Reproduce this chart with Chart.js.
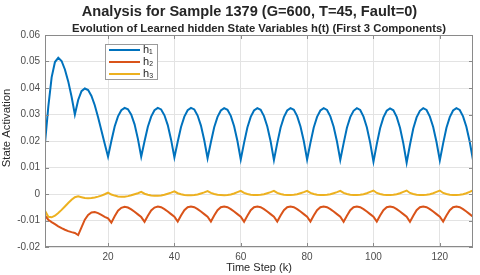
<!DOCTYPE html>
<html>
<head>
<meta charset="utf-8">
<script src="https://cdn.jsdelivr.net/npm/chart.js@4"></script>
<style>
  html, body { margin: 0; padding: 0; background: #fff; }
  #wrap { width: 480px; height: 275px; }
</style>
</head>
<body>
<div id="wrap"><canvas id="stateChart" width="480" height="275"></canvas></div>
<script>
// values, one per time step k = 1..130
const h1 = [
  0.0192, 0.0330, 0.0440, 0.0498, 0.0514, 0.0502, 0.0470, 0.0425, 0.0368, 0.0300,
  0.0355, 0.0388, 0.0398, 0.0392, 0.0370, 0.0335, 0.0290, 0.0240, 0.0190, 0.0141,
  0.0200, 0.0255, 0.0293, 0.0316, 0.0325, 0.0320, 0.0299, 0.0263, 0.0208, 0.0141,
  0.0199, 0.0254, 0.0292, 0.0316, 0.0325, 0.0319, 0.0297, 0.0260, 0.0205, 0.0138,
  0.0197, 0.0253, 0.0292, 0.0316, 0.0325, 0.0319, 0.0296, 0.0258, 0.0203, 0.0135,
  0.0195, 0.0252, 0.0291, 0.0315, 0.0324, 0.0318, 0.0295, 0.0256, 0.0200, 0.0130,
  0.0193, 0.0251, 0.0291, 0.0315, 0.0324, 0.0318, 0.0294, 0.0255, 0.0199, 0.0128,
  0.0192, 0.0250, 0.0290, 0.0315, 0.0324, 0.0318, 0.0294, 0.0255, 0.0200, 0.0130,
  0.0193, 0.0251, 0.0291, 0.0315, 0.0324, 0.0317, 0.0293, 0.0254, 0.0198, 0.0129,
  0.0191, 0.0250, 0.0290, 0.0314, 0.0324, 0.0317, 0.0292, 0.0252, 0.0194, 0.0122,
  0.0188, 0.0248, 0.0289, 0.0314, 0.0323, 0.0316, 0.0291, 0.0250, 0.0191, 0.0118,
  0.0186, 0.0247, 0.0289, 0.0314, 0.0324, 0.0317, 0.0292, 0.0253, 0.0196, 0.0127,
  0.0191, 0.0250, 0.0290, 0.0315, 0.0324, 0.0317, 0.0293, 0.0254, 0.0198, 0.0128
];
const h2 = [
  -0.0082, -0.0097, -0.0106, -0.0114, -0.0122, -0.0129, -0.0135, -0.0140, -0.0144, -0.0147,
  -0.0155, -0.0126, -0.0097, -0.0079, -0.0070, -0.0068, -0.0072, -0.0079, -0.0086, -0.0092,
  -0.0108, -0.0084, -0.0063, -0.0052, -0.0048, -0.0051, -0.0058, -0.0067, -0.0077, -0.0087,
  -0.0105, -0.0082, -0.0062, -0.0051, -0.0047, -0.0050, -0.0057, -0.0066, -0.0076, -0.0086,
  -0.0104, -0.0081, -0.0061, -0.0050, -0.0047, -0.0050, -0.0057, -0.0066, -0.0076, -0.0086,
  -0.0104, -0.0081, -0.0061, -0.0050, -0.0047, -0.0050, -0.0057, -0.0066, -0.0076, -0.0086,
  -0.0105, -0.0082, -0.0061, -0.0050, -0.0047, -0.0050, -0.0057, -0.0066, -0.0076, -0.0086,
  -0.0104, -0.0081, -0.0061, -0.0050, -0.0047, -0.0050, -0.0057, -0.0066, -0.0076, -0.0086,
  -0.0104, -0.0081, -0.0061, -0.0050, -0.0047, -0.0050, -0.0057, -0.0066, -0.0076, -0.0086,
  -0.0105, -0.0082, -0.0061, -0.0050, -0.0047, -0.0050, -0.0057, -0.0066, -0.0076, -0.0086,
  -0.0104, -0.0081, -0.0061, -0.0050, -0.0047, -0.0050, -0.0057, -0.0066, -0.0076, -0.0086,
  -0.0105, -0.0082, -0.0061, -0.0050, -0.0047, -0.0050, -0.0057, -0.0066, -0.0076, -0.0086,
  -0.0104, -0.0081, -0.0061, -0.0050, -0.0047, -0.0050, -0.0057, -0.0066, -0.0076, -0.0086
];
const h3 = [
  -0.0063, -0.0086, -0.0088, -0.0082, -0.0072, -0.0060, -0.0047, -0.0034, -0.0022, -0.0012,
  -0.0009, -0.0012, -0.0015, -0.0016, -0.0015, -0.0013, -0.0010, -0.0006, -0.0001, 0.0005,
  -0.0002, -0.0006, -0.0009, -0.0010, -0.0010, -0.0008, -0.0005, -0.0001, 0.0003, 0.0008,
  0.0001, -0.0003, -0.0006, -0.0007, -0.0007, -0.0006, -0.0003, 0.0001, 0.0005, 0.0010,
  0.0003, -0.0001, -0.0004, -0.0005, -0.0005, -0.0004, -0.0002, 0.0002, 0.0006, 0.0011,
  0.0004, 0.0000, -0.0003, -0.0004, -0.0005, -0.0004, -0.0002, 0.0002, 0.0007, 0.0012,
  0.0004, 0.0000, -0.0003, -0.0004, -0.0004, -0.0003, -0.0001, 0.0003, 0.0007, 0.0012,
  0.0004, 0.0000, -0.0003, -0.0004, -0.0004, -0.0003, -0.0001, 0.0003, 0.0007, 0.0012,
  0.0004, 0.0000, -0.0003, -0.0004, -0.0004, -0.0003, -0.0001, 0.0003, 0.0007, 0.0012,
  0.0004, 0.0000, -0.0003, -0.0004, -0.0004, -0.0003, -0.0001, 0.0003, 0.0008, 0.0013,
  0.0004, 0.0000, -0.0003, -0.0004, -0.0004, -0.0003, -0.0001, 0.0003, 0.0008, 0.0013,
  0.0004, 0.0000, -0.0003, -0.0004, -0.0004, -0.0003, -0.0001, 0.0003, 0.0008, 0.0013,
  0.0004, 0.0000, -0.0003, -0.0004, -0.0004, -0.0003, -0.0001, 0.0003, 0.0008, 0.0014
];
const seriesNames = ['h\u2081', 'h\u2082', 'h\u2083'];
const xTicks = [20, 40, 60, 80, 100, 120];
const yTicks = [-0.02, -0.01, 0, 0.01, 0.02, 0.03, 0.04, 0.05, 0.06];
const yTickLabels = ['-0.02', '-0.01', '0', '0.01', '0.02', '0.03', '0.04', '0.05', '0.06'];

const FONT = "'Liberation Sans', Arial, sans-serif";
const colors = ['#0072BD', '#D95319', '#EDB120'];

const toPoints = arr => arr.map((v, i) => ({ x: i + 1, y: v }));

// titles, frame and the in-plot legend (MATLAB look)
const decor = {
  id: 'decor',
  afterDraw(chart) {
    const c = chart.ctx;
    const a = chart.chartArea;
    c.save();
    c.fillStyle = '#262626';
    c.textAlign = 'center';
    c.textBaseline = 'middle';
    c.font = 'bold 14.6px ' + FONT;
    c.fillText('Analysis for Sample 1379 (G=600, T=45, Fault=0)', 249.5, 12);
    c.font = 'bold 11.3px ' + FONT;
    c.fillText('Evolution of Learned hidden State Variables h(t) (First 3 Components)', 259, 28.5);

    // y axis title
    c.save();
    c.translate(6.5, 128);
    c.rotate(-Math.PI / 2);
    c.font = '11.3px ' + FONT;
    c.fillText('State Activation', 0, 0);
    c.restore();

    // box around plot
    c.strokeStyle = '#8a8a8a';
    c.lineWidth = 1;
    c.strokeRect(a.left + 0.5, a.top + 0.5, a.right - a.left - 1, a.bottom - a.top - 1);

    // small inward ticks
    const xs = chart.scales.x, ys = chart.scales.y;
    c.beginPath();
    xs.ticks.forEach(t => {
      const px = Math.round(xs.getPixelForValue(t.value)) + 0.5;
      c.moveTo(px, a.bottom); c.lineTo(px, a.bottom - 4);
      c.moveTo(px, a.top); c.lineTo(px, a.top + 4);
    });
    ys.ticks.forEach(t => {
      const py = Math.round(ys.getPixelForValue(t.value)) + 0.5;
      c.moveTo(a.left, py); c.lineTo(a.left + 4, py);
      c.moveTo(a.right, py); c.lineTo(a.right - 4, py);
    });
    c.stroke();

    // legend
    const lx = 105, ly = 44, lw = 52, lh = 35;
    c.fillStyle = '#fff';
    c.fillRect(lx, ly, lw, lh);
    c.strokeStyle = '#9a9a9a';
    c.strokeRect(lx + 0.5, ly + 0.5, lw, lh);
    chart.data.datasets.forEach((ds, i) => {
      const y = ly + 6 + i * 12;
      c.strokeStyle = ds.borderColor;
      c.lineWidth = 2;
      c.beginPath();
      c.moveTo(lx + 4, y);
      c.lineTo(lx + 35, y);
      c.stroke();
      c.fillStyle = '#262626';
      c.textAlign = 'left';
      c.font = '11px ' + FONT;
      c.fillText(ds.label, lx + 38, y);
    });
    c.restore();
  }
};

new Chart(document.getElementById('stateChart'), {
  type: 'line',
  data: {
    datasets: [0, 1, 2].map(i => ({
      label: seriesNames[i],
      data: toPoints([h1, h2, h3][i]),
      borderColor: colors[i],
      backgroundColor: colors[i],
      borderWidth: 2,
      pointRadius: 0,
      tension: 0
    }))
  },
  options: {
    responsive: false,
    animation: false,
    layout: { padding: { top: 35, right: 7, bottom: 0, left: 0 } },
    plugins: {
      legend: { display: false },
      tooltip: { enabled: false }
    },
    scales: {
      x: {
        type: 'linear',
        min: 1,
        max: 130,
        afterBuildTicks: axis => { axis.ticks = xTicks.map(v => ({ value: v })); },
        afterFit: axis => { axis.height = 28; },
        grid: { color: '#e3e3e3', drawTicks: false },
        border: { display: false },
        ticks: { padding: 4, color: '#4d4d4d', font: { family: FONT, size: 10 }, maxRotation: 0 },
        title: { display: true, text: 'Time Step (k)', color: '#262626', font: { family: FONT, size: 11 }, padding: { top: 0, bottom: 0 } }
      },
      y: {
        min: -0.02,
        max: 0.06,
        afterBuildTicks: axis => { axis.ticks = yTicks.map(v => ({ value: v })); },
        afterFit: axis => { axis.width = 45; },
        grid: { color: '#e3e3e3', drawTicks: false },
        border: { display: false },
        ticks: { padding: 5, color: '#4d4d4d', font: { family: FONT, size: 10 }, callback: (v, i) => yTickLabels[i] }
      }
    }
  },
  plugins: [decor]
});
</script>
</body>
</html>
